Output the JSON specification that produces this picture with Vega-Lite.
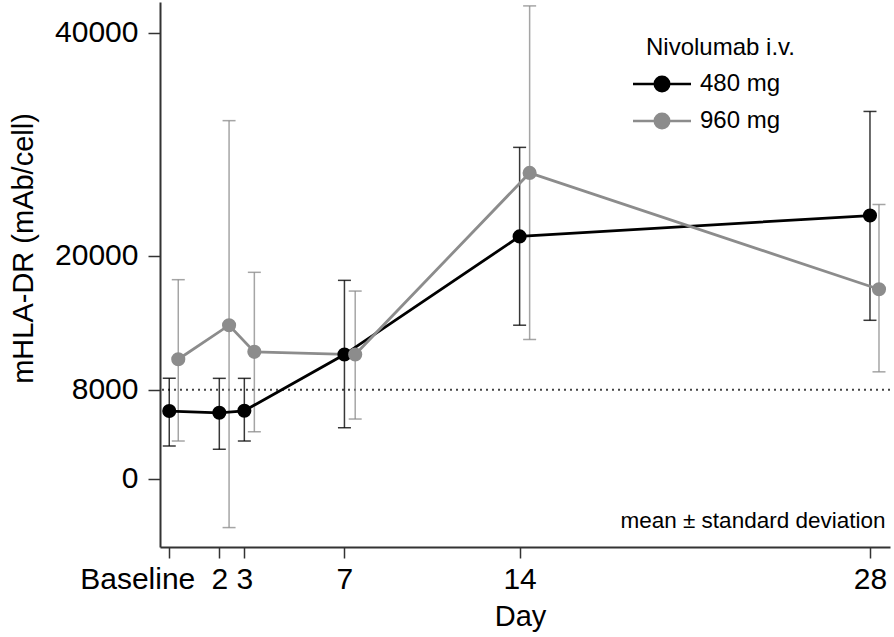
{
  "$schema": "https://vega.github.io/schema/vega-lite/v6.json",
  "autosize": "none",
  "width": 730,
  "height": 545,
  "padding": {"left": 160, "top": 2, "right": 4, "bottom": 90},
  "background": "white",
  "config": {
    "view": {"stroke": null},
    "axis": {
      "grid": false,
      "domainColor": "#333",
      "domainWidth": 2,
      "tickColor": "#333",
      "tickWidth": 1.5,
      "labelFont": "Liberation Sans",
      "labelFontSize": 30,
      "labelColor": "#000",
      "titleFont": "Liberation Sans",
      "titleFontSize": 29,
      "titleFontWeight": "normal",
      "titleColor": "#000"
    }
  },
  "datasets": {
    "stats": [
      {"dose": "480 mg", "day": 0, "mean": 6086, "lo": 2950, "hi": 9017},
      {"dose": "480 mg", "day": 2, "mean": 5930, "lo": 2660, "hi": 9017},
      {"dose": "480 mg", "day": 3, "mean": 6110, "lo": 3400, "hi": 9017},
      {"dose": "480 mg", "day": 7, "mean": 11150, "lo": 4590, "hi": 17800},
      {"dose": "480 mg", "day": 14, "mean": 21740, "lo": 13780, "hi": 29720},
      {"dose": "480 mg", "day": 28, "mean": 23610, "lo": 14220, "hi": 32940},
      {"dose": "960 mg", "day": 0.36, "mean": 10730, "lo": 3400, "hi": 17860},
      {"dose": "960 mg", "day": 2.39, "mean": 13780, "lo": -4360, "hi": 32115},
      {"dose": "960 mg", "day": 3.4, "mean": 11390, "lo": 4230, "hi": 18520},
      {"dose": "960 mg", "day": 7.43, "mean": 11150, "lo": 5370, "hi": 16840},
      {"dose": "960 mg", "day": 14.4, "mean": 27430, "lo": 12500, "hi": 42400},
      {"dose": "960 mg", "day": 28.36, "mean": 17000, "lo": 9600, "hi": 24600}
    ]
  },
  "layer": [
    {
      "data": {"values": [{"threshold": 8000}]},
      "mark": {"type": "rule", "strokeDash": [2, 4], "strokeWidth": 2, "color": "#444"},
      "encoding": {"y": {"field": "threshold", "type": "quantitative"}}
    },
    {
      "data": {"name": "stats"},
      "mark": {"type": "rule", "strokeWidth": 1.5, "opacity": 0.78},
      "encoding": {
        "x": {
          "field": "day",
          "type": "quantitative",
          "scale": {"domain": [-0.37, 28.8], "nice": false, "zero": false},
          "axis": {
            "values": [0, 2, 3, 7, 14, 28],
            "labelExpr": "datum.value == 0 ? 'Baseline' : datum.label",
            "tickSize": 11,
            "labelPadding": 6,
            "labelFlush": false,
            "labelOverlap": false,
            "labelOffset": {"condition": {"test": "datum.value == 0", "value": -32}, "value": 0},
            "title": "Day",
            "titleX": 360,
            "titleY": 78,
            "titleBaseline": "alphabetic",
            "titleAlign": "center"
          }
        },
        "y": {
          "field": "lo",
          "type": "quantitative",
          "scale": {"domain": [-6100, 42750], "nice": false, "zero": false},
          "axis": {
            "values": [0, 8000, 20000, 40000],
            "format": "d",
            "tickSize": 12,
            "labelPadding": 10,
            "title": "mHLA-DR (mAb/cell)",
            "titleAngle": -90,
            "titleX": -128,
            "titleY": 246,
            "titleAlign": "center",
            "titleBaseline": "alphabetic"
          }
        },
        "y2": {"field": "hi"},
        "color": {
          "field": "dose",
          "type": "nominal",
          "scale": {"domain": ["480 mg", "960 mg"], "range": ["#000000", "#8c8c8c"]},
          "legend": {
            "orient": "none",
            "legendX": 486,
            "legendY": 34,
            "padding": 0,
            "title": "Nivolumab i.v.",
            "titleFont": "Liberation Sans",
            "titleFontSize": 24,
            "titleFontWeight": "normal",
            "titleColor": "#000",
            "titlePadding": 8,
            "labelFont": "Liberation Sans",
            "labelFontSize": 24,
            "labelColor": "#000",
            "labelOffset": 22,
            "symbolType": "M-2,0H2M0.5,0A0.5,0.5 0 1,1 -0.5,0A0.5,0.5 0 1,1 0.5,0Z",
            "symbolSize": 841,
            "symbolStrokeWidth": 2.5,
            "symbolOpacity": 1,
            "rowPadding": 8,
            "encode": {
              "title": {"update": {"dx": {"value": 0}}},
              "symbols": {"update": {
                "fill": {"scale": "color", "field": "value"},
                "stroke": {"scale": "color", "field": "value"},
                "opacity": {"value": 1},
                "fillOpacity": {"value": 1},
                "strokeOpacity": {"value": 1}
              }}
            }
          }
        }
      }
    },
    {
      "data": {"name": "stats"},
      "mark": {"type": "tick", "orient": "horizontal", "size": 13, "thickness": 1.5, "opacity": 0.78},
      "encoding": {
        "x": {"field": "day", "type": "quantitative"},
        "y": {"field": "lo", "type": "quantitative"},
        "color": {"field": "dose", "type": "nominal"}
      }
    },
    {
      "data": {"name": "stats"},
      "mark": {"type": "tick", "orient": "horizontal", "size": 13, "thickness": 1.5, "opacity": 0.78},
      "encoding": {
        "x": {"field": "day", "type": "quantitative"},
        "y": {"field": "hi", "type": "quantitative"},
        "color": {"field": "dose", "type": "nominal"}
      }
    },
    {
      "data": {"name": "stats"},
      "mark": {"type": "line", "strokeWidth": 2.8},
      "encoding": {
        "x": {"field": "day", "type": "quantitative"},
        "y": {"field": "mean", "type": "quantitative"},
        "color": {"field": "dose", "type": "nominal"}
      }
    },
    {
      "data": {"name": "stats"},
      "mark": {"type": "point", "shape": "circle", "filled": true, "size": 200, "opacity": 1},
      "encoding": {
        "x": {"field": "day", "type": "quantitative"},
        "y": {"field": "mean", "type": "quantitative"},
        "color": {"field": "dose", "type": "nominal"}
      }
    },
    {
      "data": {"values": [{"note": "mean ± standard deviation"}]},
      "mark": {"type": "text", "align": "right", "baseline": "alphabetic", "fontSize": 22.5, "font": "Liberation Sans", "color": "#000"},
      "encoding": {
        "x": {"datum": 28.62, "type": "quantitative"},
        "y": {"datum": -4390, "type": "quantitative"},
        "text": {"field": "note", "type": "nominal"}
      }
    }
  ]
}
